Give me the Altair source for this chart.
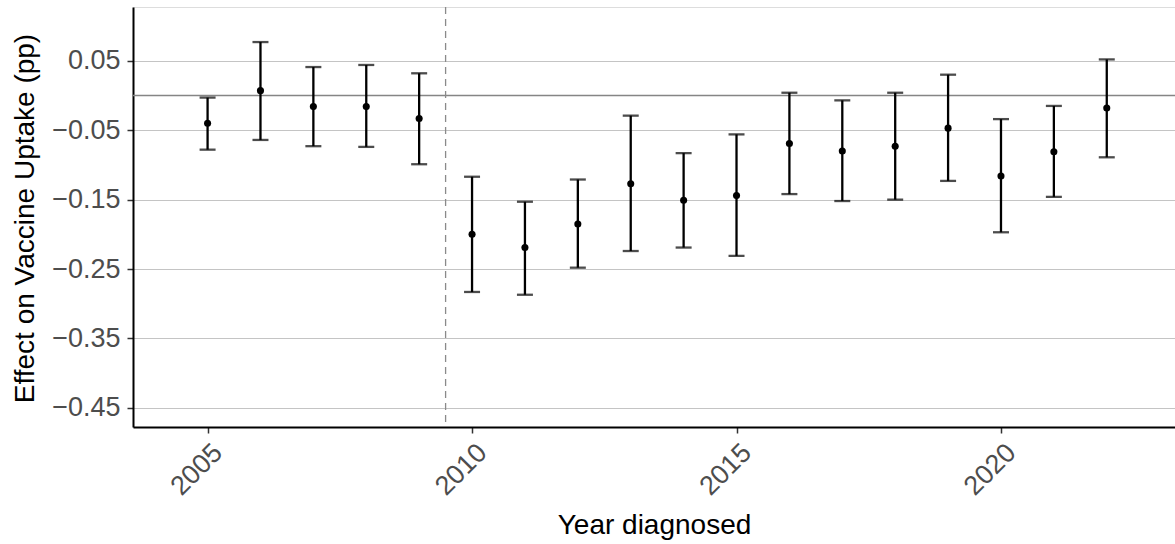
import altair as alt
import pandas as pd

years = list(range(2005, 2023))
estimate = [-0.040, 0.007, -0.016, -0.016, -0.033, -0.200, -0.219, -0.185, -0.127,
            -0.151, -0.144, -0.069, -0.080, -0.073, -0.047, -0.116, -0.081, -0.018]
lower = [-0.078, -0.064, -0.073, -0.074, -0.099, -0.283, -0.287, -0.248, -0.224,
         -0.219, -0.231, -0.142, -0.152, -0.150, -0.123, -0.197, -0.146, -0.089]
upper = [-0.003, 0.077, 0.041, 0.044, 0.032, -0.117, -0.153, -0.121, -0.029,
         -0.083, -0.056, 0.004, -0.007, 0.004, 0.030, -0.034, -0.015, 0.052]
y_ticks = [0.05, -0.05, -0.15, -0.25, -0.35, -0.45]
x_ticks = [2005, 2010, 2015, 2020]
cutoff = [2009.5]
zero = [0.0]

df = pd.DataFrame({"year": years, "est": estimate, "lo": lower, "hi": upper})

FONT = "Liberation Sans"
xs = alt.Scale(domain=[2003.59, 2023.29], nice=False, zero=False)
ys = alt.Scale(domain=[-0.4775, 0.1275], nice=False, zero=False)

x_axis = alt.Axis(values=x_ticks, format="d", title="Year diagnosed", grid=False,
                  labelAngle=315, labelAlign="right", labelBaseline="top",
                  labelFontSize=27, labelColor="#4d4d4d", labelFont=FONT,
                  labelPadding=6, labelOffset=1,
                  tickSize=6, tickColor="#333333", tickWidth=1.5,
                  domainColor="black", domainWidth=2,
                  titleFont=FONT, titleFontSize=28, titleFontWeight="normal", titleColor="black",
                  titleX=521, titleY=106, titleBaseline="alphabetic", titleAlign="center")
y_axis = alt.Axis(values=y_ticks, format=".2f", title="Effect on Vaccine Uptake (pp)",
                  grid=True, gridColor="#c4c4c4", gridWidth=1.2,
                  labelFontSize=27, labelColor="#4d4d4d", labelFont=FONT, labelPadding=7,
                  tickSize=6, tickColor="#333333", tickWidth=1.5,
                  domainColor="black", domainWidth=2,
                  titleFont=FONT, titleFontSize=28, titleFontWeight="normal", titleColor="black",
                  titleX=-100, titleY=211, titleAngle=270, titleBaseline="alphabetic",
                  titleAlign="center")


def X(field):
    return alt.X(field, scale=xs, axis=x_axis)


def Y(field):
    return alt.Y(field, scale=ys, axis=y_axis)


base = alt.Chart(df)

zero_line = alt.Chart(pd.DataFrame({"z": zero})).mark_rule(color="#858585", strokeWidth=1.7).encode(
    y=Y("z:Q")
)
vline = alt.Chart(pd.DataFrame({"c": cutoff})).mark_rule(
    color="#8a8a8a", strokeWidth=1.3, strokeDash=[7, 5]
).encode(x=X("c:Q"))

bars = base.mark_rule(color="black", strokeWidth=2.3).encode(
    x=X("year:Q"), y=Y("lo:Q"), y2="hi:Q"
)
cap_lo = base.mark_tick(color="black", orient="horizontal", size=16, thickness=2.3).encode(
    x=X("year:Q"), y=Y("lo:Q")
)
cap_hi = base.mark_tick(color="black", orient="horizontal", size=16, thickness=2.3).encode(
    x=X("year:Q"), y=Y("hi:Q")
)
pts = base.mark_circle(color="black", size=50, opacity=1).encode(
    x=X("year:Q"), y=Y("est:Q")
)

chart = alt.layer(zero_line, vline, bars, cap_lo, cap_hi, pts).properties(
    width=1042, height=420,
    autosize=alt.AutoSizeParams(type="none"),
    padding={"left": 133, "top": 7, "right": 0, "bottom": 117},
).configure_view(stroke="transparent", strokeWidth=0).configure(background="white")

chart.save("out.html", embed_options={"renderer": "svg", "actions": False})
